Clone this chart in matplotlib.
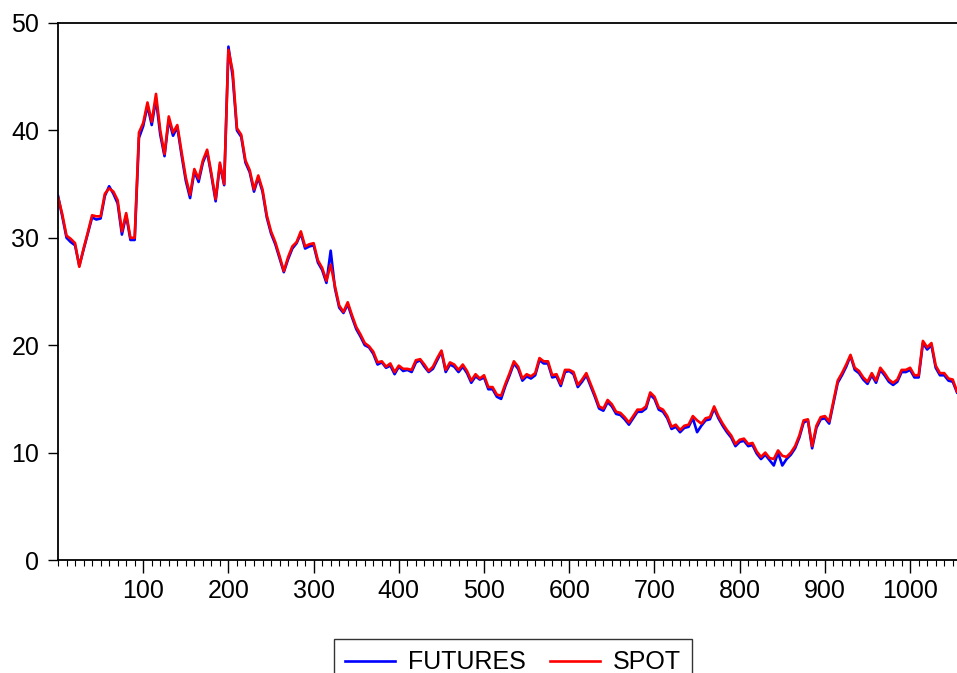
import numpy as np
import matplotlib
matplotlib.use('Agg')
import matplotlib.pyplot as plt
from matplotlib.ticker import MultipleLocator

plt.rcParams['font.family'] = ['Liberation Sans', 'DejaVu Sans']

''' Data (read off the chart, one value every 5 observations) '''
obs = np.arange(0, 1056, 5)

spot = [33.8, 32.2, 30.2, 29.9, 29.5, 27.3, 29.0, 30.5, 32.1, 32.0,
        32.0, 34.1, 34.6, 34.3, 33.5, 30.6, 32.3, 30.0, 30.0, 39.8,
        40.7, 42.6, 40.8, 43.4, 40.0, 37.8, 41.3, 39.8, 40.5, 38.0,
        35.6, 34.0, 36.4, 35.5, 37.2, 38.2, 36.0, 33.6, 37.0, 35.0,
        47.5, 45.5, 40.2, 39.6, 37.2, 36.3, 34.5, 35.8, 34.5, 32.1,
        30.6, 29.6, 28.3, 26.9, 28.2, 29.2, 29.6, 30.6, 29.2, 29.4,
        29.5, 27.9, 27.2, 26.0, 27.5, 25.5, 23.7, 23.1, 24.0, 22.8,
        21.7, 21.0, 20.2, 19.9, 19.4, 18.4, 18.5, 18.0, 18.3, 17.5,
        18.1, 17.8, 17.8, 17.7, 18.6, 18.7, 18.2, 17.6, 18.0, 18.8,
        19.5, 17.7, 18.4, 18.2, 17.7, 18.2, 17.6, 16.7, 17.3, 16.9,
        17.2, 16.1, 16.1, 15.4, 15.3, 16.4, 17.4, 18.5, 18.0, 16.9,
        17.3, 17.1, 17.4, 18.8, 18.5, 18.5, 17.2, 17.3, 16.4, 17.7,
        17.7, 17.5, 16.3, 16.8, 17.4, 16.4, 15.4, 14.3, 14.1, 14.9,
        14.5, 13.8, 13.7, 13.3, 12.8, 13.4, 14.0, 14.0, 14.3, 15.6,
        15.2, 14.2, 14.0, 13.4, 12.4, 12.6, 12.1, 12.5, 12.6, 13.4,
        13.0, 12.7, 13.2, 13.3, 14.3, 13.4, 12.7, 12.1, 11.6, 10.8,
        11.2, 11.3, 10.8, 10.9, 10.1, 9.6, 10.0, 9.5, 9.4, 10.2,
        9.7, 9.6, 10.0, 10.6, 11.6, 13.0, 13.1, 10.6, 12.5, 13.3,
        13.4, 12.9, 14.8, 16.7, 17.4, 18.2, 19.1, 17.9, 17.6, 17.0,
        16.6, 17.4, 16.7, 17.9, 17.4, 16.8, 16.5, 16.8, 17.7, 17.7,
        17.9, 17.2, 17.2, 20.4, 19.8, 20.2, 18.1, 17.4, 17.4, 16.9,
        16.8, 15.7]

futures = [33.9, 32.0, 30.0, 29.6, 29.3, 27.4, 28.9, 30.4, 31.9, 31.7,
           31.8, 33.9, 34.8, 34.1, 33.2, 30.3, 32.1, 29.8, 29.8, 39.3,
           40.4, 42.3, 40.5, 42.9, 39.6, 37.6, 41.0, 39.5, 40.3, 37.7,
           35.3, 33.7, 36.2, 35.2, 37.0, 38.0, 35.8, 33.4, 36.8, 34.9,
           47.8, 45.0, 40.0, 39.4, 37.0, 36.1, 34.3, 35.6, 34.3, 31.9,
           30.4, 29.4, 28.1, 26.8, 28.0, 29.0, 29.5, 30.4, 29.0, 29.2,
           29.3, 27.7, 27.0, 25.8, 28.8, 25.3, 23.5, 23.0, 23.8, 22.6,
           21.5, 20.8, 20.0, 19.8, 19.2, 18.2, 18.4, 17.9, 18.1, 17.3,
           18.0, 17.6, 17.7, 17.5, 18.4, 18.6, 18.0, 17.5, 17.8, 18.6,
           19.4, 17.5, 18.2, 18.0, 17.5, 18.0, 17.4, 16.5, 17.1, 16.8,
           17.0, 15.9, 15.9, 15.2, 15.0, 16.2, 17.2, 18.3, 17.8, 16.7,
           17.1, 16.9, 17.2, 18.6, 18.3, 18.3, 17.0, 17.1, 16.2, 17.5,
           17.6, 17.3, 16.1, 16.6, 17.2, 16.2, 15.2, 14.1, 13.9, 14.7,
           14.3, 13.6, 13.5, 13.1, 12.6, 13.2, 13.8, 13.8, 14.1, 15.4,
           15.0, 14.0, 13.8, 13.2, 12.2, 12.4, 11.9, 12.3, 12.4, 13.2,
           11.9, 12.5, 13.0, 13.1, 14.1, 13.2, 12.5, 11.9, 11.4, 10.6,
           11.0, 11.1, 10.6, 10.7, 9.9, 9.4, 9.8, 9.3, 8.8, 10.0,
           8.8, 9.4, 9.8, 10.4, 11.4, 12.8, 13.0, 10.4, 12.3, 13.1,
           13.2, 12.7, 14.6, 16.5, 17.2, 18.0, 19.0, 17.7, 17.4, 16.8,
           16.4, 17.2, 16.5, 17.7, 17.2, 16.6, 16.3, 16.6, 17.5, 17.5,
           17.7, 17.0, 17.0, 20.2, 19.6, 20.0, 17.9, 17.2, 17.2, 16.7,
           16.6, 15.6]

x_ticks = [100, 200, 300, 400, 500, 600, 700, 800, 900, 1000]
y_ticks = [0, 10, 20, 30, 40, 50]

''' PLOTTING '''
fig = plt.figure(figsize=(9.57, 6.73), dpi=100)
ax = fig.add_axes([58/957, 1-560/673, 1-58/957, (560-23)/673])

ax.plot(obs, futures, color='#0000FF', lw=1.9, label='FUTURES')
ax.plot(obs, spot, color='#FF0000', lw=1.9, label='SPOT')

ax.set_xlim(0, 1055)
ax.set_ylim(0, 50)
ax.set_xticks(x_ticks)
ax.set_yticks(y_ticks)
ax.xaxis.set_minor_locator(MultipleLocator(10))

ax.spines['right'].set_visible(False)
for s in ['left', 'bottom', 'top']:
    ax.spines[s].set_linewidth(1.3)
ax.tick_params(axis='both', labelsize=18, direction='out', width=1, colors='black')
ax.tick_params(axis='x', which='major', length=9, pad=5)
ax.tick_params(axis='x', which='minor', length=4.5, width=0.8)
ax.tick_params(axis='y', which='major', length=7.5, pad=6)

leg = fig.legend(loc='upper center', bbox_to_anchor=(513/957, 1-639/673), ncol=2,
                 fontsize=18, frameon=True, fancybox=False, edgecolor='black',
                 handlelength=2.0, handletextpad=0.5, columnspacing=1.0,
                 borderpad=0.45, borderaxespad=0)
leg.get_frame().set_linewidth(1.0)

plt.savefig('out.png', dpi=100)
